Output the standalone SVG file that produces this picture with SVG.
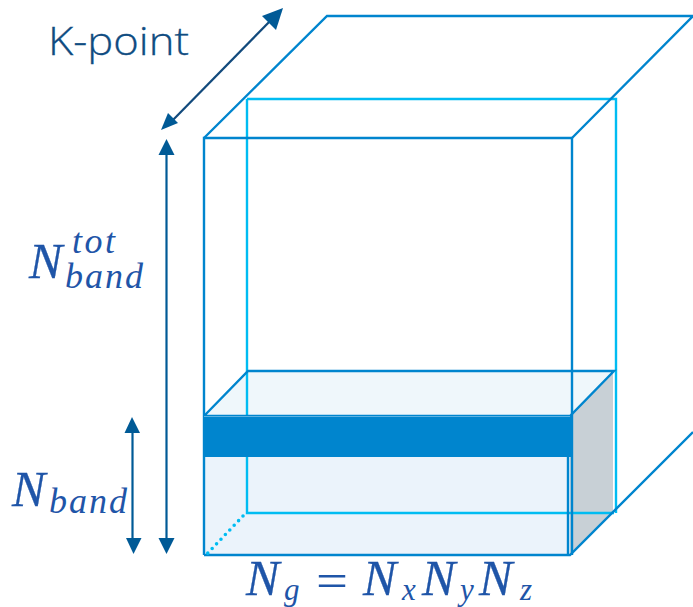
<svg xmlns="http://www.w3.org/2000/svg" width="693" height="607" viewBox="0 0 693 607">
<style>
.m{font-family:"Liberation Serif",serif;font-style:italic;fill:#1f55a8}
.n{font-size:50px;stroke:#1f55a8;stroke-width:.3}
.s{font-size:36px}
.t{font-size:31px}
.d{stroke:#0085ce;stroke-width:2.400;fill:none}
.b{stroke:#00bcf2;stroke-width:2.400;fill:none}
.a{stroke:#005a96;stroke-width:2.200;fill:none}
.h{fill:#005a96}
</style>
<rect width="693" height="607" fill="#fff"/>
<g id="box">
<polygon points="204,416 248,371 614,371 570,416" fill="#eff7fb"/>
<rect x="204" y="416" width="366" height="139" fill="#ebf3fb"/>
<polygon points="570,416 613,371 613,512 570,555" fill="#c8d0d6"/>
<path class="b" d="M247 99V513H614M247 99H616V513"/>
<path class="d" d="M204 555V138H572V555"/>
<path class="d" d="M204 138L327 16H693L572 138"/>
<path class="d" d="M204 555H570L693 432"/>
<path class="d" d="M204 416L248 371H614L570 416H204M568 416V555"/>
<rect x="204" y="417" width="368" height="40" fill="#0085ce"/>
<path d="M204 416.500H570" stroke="#5cb2e2" stroke-width="1" fill="none"/>
<path d="M243 516L206 555" fill="none" stroke="#00bcf2" stroke-width="3.600" stroke-linecap="round" stroke-dasharray="0 6.400"/>
</g>
<g id="connectors">
<path class="a" d="M171 122L274 17" style="stroke:#124a7c"/>
<polygon class="h" points="283,8 262,16 276,30"/>
<polygon class="h" points="161,130 178,123 168,113"/>
<path class="a" d="M166.500 150V540"/>
<polygon class="h" points="166.500,139 158.500,155 174.500,155"/>
<polygon class="h" points="166.500,554 158.500,538 174.500,538"/>
<path class="a" d="M132.500 430V540"/>
<polygon class="h" points="132,417 124.500,433 140,433"/>
<polygon class="h" points="133.500,554 126,538 141.500,538"/>
</g>
<g id="labels">
<text id="kpoint" x="48" y="55" font-family="'Open Sans','Noto Sans',sans-serif" font-size="39" font-weight="300" fill="#0f4c81" stroke="#0f4c81" stroke-width=".3" textLength="141" lengthAdjust="spacingAndGlyphs">K-point</text>
<g id="ntot">
<text class="m n" x="29" y="278">N</text>
<text class="m s" x="72" y="253" textLength="43" lengthAdjust="spacing">tot</text>
<text class="m s" x="65" y="288" textLength="78" lengthAdjust="spacing">band</text>
</g>
<g id="nband">
<text class="m n" x="12" y="506">N</text>
<text class="m s" x="49" y="513" textLength="78" lengthAdjust="spacing">band</text>
</g>
<g id="ng">
<text class="m n" x="246" y="595">N</text>
<text class="m t" x="284" y="600">g</text>
<text x="316" y="597" font-family="'Liberation Serif',serif" font-size="48" fill="#1f55a8" textLength="32" lengthAdjust="spacingAndGlyphs">=</text>
<text class="m n" x="363" y="595">N</text>
<text class="m t" x="402" y="600">x</text>
<text class="m n" x="422" y="595">N</text>
<text class="m t" x="460" y="600">y</text>
<text class="m n" x="479" y="595">N</text>
<text class="m t" x="520" y="600">z</text>
</g>
</g>
</svg>
